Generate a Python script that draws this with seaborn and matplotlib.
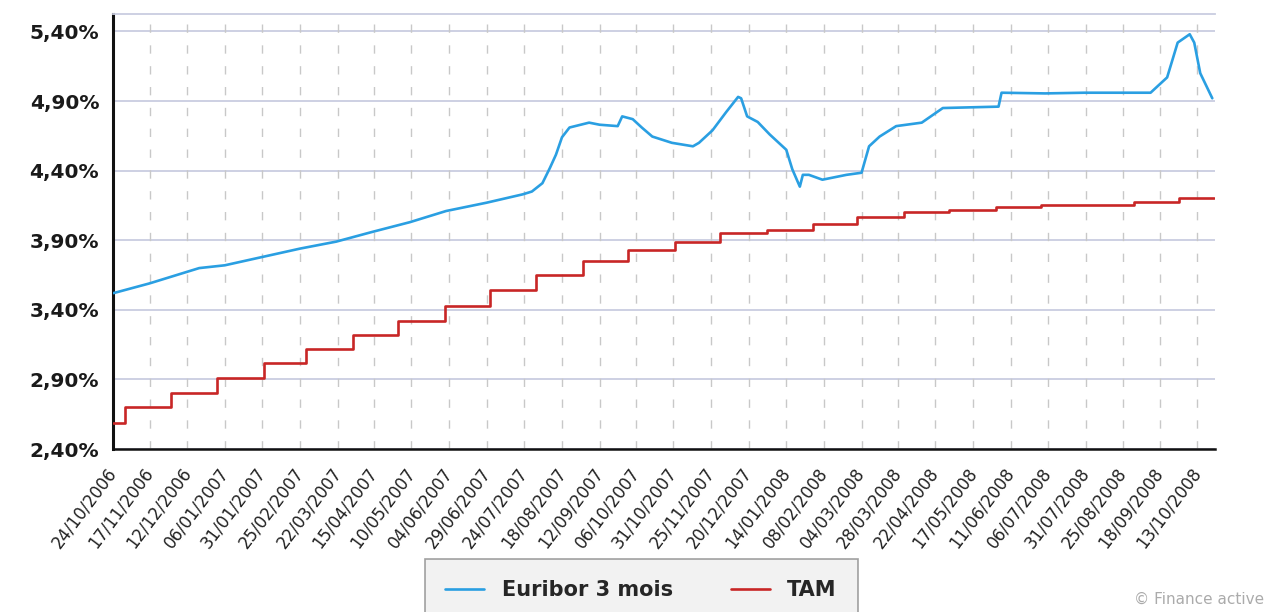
import matplotlib
matplotlib.use("Agg")
import matplotlib.pyplot as plt
from matplotlib.lines import Line2D
import seaborn as sns
import pandas as pd

# ---------------- data ----------------
euribor_dates = [
    "2006-10-24", "2006-11-17", "2006-12-20", "2007-01-06", "2007-01-31",
    "2007-02-25", "2007-03-21", "2007-04-14", "2007-05-09", "2007-06-02",
    "2007-06-29", "2007-07-23", "2007-07-29", "2007-08-05", "2007-08-10",
    "2007-08-14", "2007-08-18", "2007-08-23", "2007-09-05", "2007-09-12",
    "2007-09-24", "2007-09-27", "2007-10-04", "2007-10-10", "2007-10-17",
    "2007-10-30", "2007-11-13", "2007-11-17", "2007-11-26", "2007-12-05",
    "2007-12-13", "2007-12-15", "2007-12-19", "2007-12-26", "2008-01-03",
    "2008-01-14", "2008-01-18", "2008-01-23", "2008-01-25", "2008-01-29",
    "2008-02-07", "2008-02-23", "2008-03-04", "2008-03-09", "2008-03-16",
    "2008-03-27", "2008-04-13", "2008-04-27", "2008-06-03", "2008-06-05",
    "2008-07-04", "2008-07-30", "2008-09-12", "2008-09-23", "2008-09-30",
    "2008-10-08", "2008-10-11", "2008-10-15", "2008-10-23",
]
euribor_values = [
    3.52, 3.59, 3.70, 3.72, 3.78,
    3.84, 3.89, 3.96, 4.03, 4.11,
    4.17, 4.23, 4.25, 4.31, 4.42,
    4.515, 4.64, 4.71, 4.745, 4.73,
    4.72, 4.79, 4.77, 4.71, 4.645,
    4.60, 4.575, 4.60, 4.69, 4.82,
    4.93, 4.92, 4.79, 4.75, 4.66,
    4.55, 4.41, 4.285, 4.37, 4.37,
    4.335, 4.37, 4.385, 4.575, 4.645,
    4.72, 4.745, 4.85, 4.86, 4.96,
    4.955, 4.96, 4.96, 5.07, 5.32,
    5.38, 5.32, 5.10, 4.92,
]

tam_dates = [
    "2006-10-24", "2006-11-01", "2006-12-01", "2007-01-01", "2007-02-01",
    "2007-03-01", "2007-04-01", "2007-05-01", "2007-06-01", "2007-07-01",
    "2007-08-01", "2007-09-01", "2007-10-01", "2007-11-01", "2007-12-01",
    "2008-01-01", "2008-02-01", "2008-03-01", "2008-04-01", "2008-05-01",
    "2008-06-01", "2008-07-01", "2008-08-01", "2008-09-01", "2008-10-01",
    "2008-10-24",
]
tam_values = [
    2.59, 2.70, 2.80, 2.91, 3.02,
    3.12, 3.22, 3.32, 3.43, 3.54,
    3.65, 3.75, 3.83, 3.89, 3.955,
    3.975, 4.02, 4.07, 4.105, 4.12,
    4.14, 4.15, 4.155, 4.175, 4.20,
    4.20,
]

x_tick_labels = [
    "24/10/2006", "17/11/2006", "12/12/2006", "06/01/2007", "31/01/2007",
    "25/02/2007", "22/03/2007", "15/04/2007", "10/05/2007", "04/06/2007",
    "29/06/2007", "24/07/2007", "18/08/2007", "12/09/2007", "06/10/2007",
    "31/10/2007", "25/11/2007", "20/12/2007", "14/01/2008", "08/02/2008",
    "04/03/2008", "28/03/2008", "22/04/2008", "17/05/2008", "11/06/2008",
    "06/07/2008", "31/07/2008", "25/08/2008", "18/09/2008", "13/10/2008",
]
y_ticks = [2.40, 2.90, 3.40, 3.90, 4.40, 4.90, 5.40]

series_names = ["Euribor 3 mois", "TAM"]
series_colors = ["#2a9fe2", "#c82626"]

# ---------------- plot ----------------
sns.set_style("white")
plt.rcParams["font.family"] = ["DejaVu Sans"]

fig = plt.figure(figsize=(12.67, 6.12), dpi=100)
ax = fig.add_axes([0.0892, 0.2663, 0.8700, 0.7107])

eur = pd.DataFrame({"date": pd.to_datetime(euribor_dates), "value": euribor_values})
tam = pd.DataFrame({"date": pd.to_datetime(tam_dates), "value": tam_values})

sns.lineplot(data=eur, x="date", y="value", ax=ax, color=series_colors[0],
             linewidth=1.9, zorder=3)
sns.lineplot(data=tam, x="date", y="value", ax=ax, color=series_colors[1],
             linewidth=1.9, drawstyle="steps-post", zorder=3)

xt = pd.to_datetime(x_tick_labels, dayfirst=True)
ax.set_xlim(pd.Timestamp("2006-10-23 18:00"), pd.Timestamp("2008-10-25"))
ax.set_ylim(2.40, 5.525)

ax.set_xticks(xt)
ax.set_xticklabels(x_tick_labels, rotation=53, ha="right", va="center",
                   rotation_mode="anchor", fontsize=12, color="#222222")
ax.set_yticks(y_ticks)
ax.set_yticklabels([("%.2f" % v).replace(".", ",") + "%" for v in y_ticks],
                   fontsize=14.5, fontweight="bold", color="#1a1a1a")
ax.set_xlabel("")
ax.set_ylabel("")

# grid
for v in y_ticks:
    ax.axhline(v, color="#c9cde0", linewidth=1.3, zorder=1)
for d in xt:
    ax.axvline(d, color="#c8c8c8", linewidth=1.0, linestyle=(0, (6, 9)), zorder=1)

# spines
ax.spines["left"].set_color("#111111")
ax.spines["left"].set_linewidth(2.2)
ax.spines["bottom"].set_color("#111111")
ax.spines["bottom"].set_linewidth(1.8)
ax.spines["top"].set_color("#c9cde0")
ax.spines["top"].set_linewidth(1.3)
ax.spines["right"].set_visible(False)

ax.tick_params(axis="x", direction="out", length=6, width=1.5, color="#111111", pad=9)
ax.tick_params(axis="y", direction="out", length=7, width=1.5, color="#111111", pad=3)

# legend
handles = [Line2D([0], [0], color=c, linewidth=1.9) for c in series_colors]
leg = fig.legend(handles, series_names, loc="upper center",
                 bbox_to_anchor=(0.506, 0.086), ncol=2, frameon=True,
                 fancybox=False, facecolor="#efefef", edgecolor="#8a8a8a",
                 prop={"weight": "bold", "size": 15}, handlelength=1.85,
                 columnspacing=2.8, borderpad=1.0, handletextpad=0.85,
                 borderaxespad=0)
leg.get_frame().set_linewidth(1.2)

fig.text(0.998, 0.008, "\u00a9 Finance active", ha="right", va="bottom",
         fontsize=11, color="#ababab")

fig.savefig("out.png", dpi=100)
